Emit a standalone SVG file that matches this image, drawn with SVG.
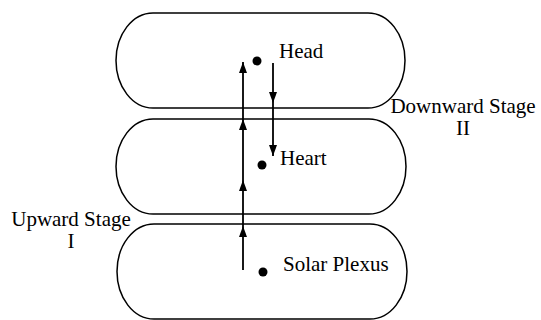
<svg xmlns="http://www.w3.org/2000/svg" width="541" height="320" viewBox="0 0 541 320">
<style>
.zone{fill:none;stroke:#000;stroke-width:1.5}
.dot{fill:#000}
.lbl{font-family:'Liberation Serif','DejaVu Serif',serif;font-size:21px;fill:#000}
.flow{fill:none;stroke:#000;stroke-width:1.8}
</style>
<defs>
<marker id="ah" markerUnits="userSpaceOnUse" markerWidth="11" markerHeight="8" viewBox="0 0 11 8" refX="11" refY="4" orient="auto">
<path d="M0,0 L11,4 L0,8 z" fill="#000"/>
</marker>
</defs>
<rect width="541" height="320" fill="#fff"/>
<g id="head">
<rect class="zone" x="116" y="13" width="289" height="95" rx="37" ry="47.5"/>
<circle class="dot" cx="257" cy="61" r="4.5"/>
<text class="lbl" font-family="Liberation Serif, serif" x="279" y="58">Head</text>
</g>
<g id="heart">
<rect class="zone" x="116" y="119" width="290" height="95" rx="37" ry="47.5"/>
<circle class="dot" cx="262" cy="165" r="4.5"/>
<text class="lbl" font-family="Liberation Serif, serif" x="280" y="165">Heart</text>
</g>
<g id="solar-plexus">
<rect class="zone" x="117" y="224" width="290" height="95" rx="37" ry="47.5"/>
<circle class="dot" cx="263" cy="272" r="4.5"/>
<text class="lbl" font-family="Liberation Serif, serif" x="283" y="271">Solar Plexus</text>
</g>
<g id="downward-label">
<text class="lbl" font-family="Liberation Serif, serif" x="463" y="113" text-anchor="middle">Downward Stage</text>
<text class="lbl" font-family="Liberation Serif, serif" x="463" y="135" text-anchor="middle">II</text>
</g>
<g id="upward-label">
<text class="lbl" font-family="Liberation Serif, serif" x="71" y="226" text-anchor="middle">Upward Stage</text>
<text class="lbl" font-family="Liberation Serif, serif" x="71" y="248" text-anchor="middle">I</text>
</g>
<g id="connectors">
<polyline class="flow" points="243,270 243,226 243,180 243,119 243,62" marker-mid="url(#ah)" marker-end="url(#ah)"/>
<polyline class="flow" points="273,63 273,103 273,156" marker-mid="url(#ah)" marker-end="url(#ah)"/>
</g>
</svg>
